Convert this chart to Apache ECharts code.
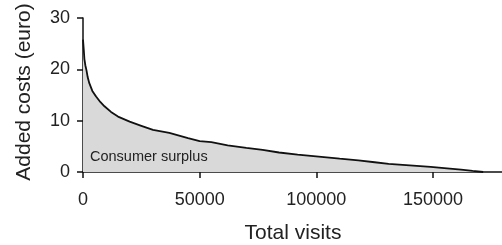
<!DOCTYPE html>
<html>
<head>
<meta charset="utf-8">
<script src="https://cdn.jsdelivr.net/npm/echarts@6/dist/echarts.min.js"></script>
<style>
  html, body { margin: 0; padding: 0; background: #fff; }
  #chart { width: 502px; height: 245px; }
</style>
</head>
<body>
<div id="chart"></div>
<script>
// 横坐标：总访问量
const visits = [0, 300, 600, 1000, 1500, 2000, 2700, 4000, 5600, 7500, 9200, 12000, 15000, 20000,
  25000, 30000, 37000, 45000, 50000, 55000, 62000, 70000, 77000, 84000, 92000, 101000, 110000,
  118000, 125000, 131000, 140000, 149000, 156000, 162000, 167000, 171500];
// 纵坐标：附加成本 (euro)
const costs = [25.8, 24, 22, 20.8, 19.8, 18.5, 17.3, 15.8, 14.7, 13.6, 12.8, 11.7, 10.8, 9.8,
  9.0, 8.2, 7.6, 6.6, 6.0, 5.8, 5.2, 4.7, 4.3, 3.8, 3.4, 3.0, 2.6,
  2.25, 1.9, 1.6, 1.3, 1.0, 0.7, 0.45, 0.2, 0];
const xTicks = [0, 50000, 100000, 150000];
const yTicks = [0, 10, 20, 30];

const font = '"Liberation Sans", Arial, sans-serif';
const chart = echarts.init(document.getElementById('chart'));

const option = {
  animation: false,
  grid: { left: 83, top: 18, right: -1, bottom: 73, containLabel: false, outerBoundsMode: 'none' },
  xAxis: {
    type: 'value',
    min: 0,
    max: 180000,
    interval: 50000,
    name: 'Total visits',
    nameLocation: 'middle',
    nameGap: 51,
    nameTextStyle: { fontFamily: font, fontSize: 21, color: '#222' },
    splitLine: { show: false },
    axisLine: { onZero: false, lineStyle: { color: '#111', width: 1.5 } },
    axisTick: { length: 6, customValues: xTicks, lineStyle: { color: '#111', width: 1.5 } },
    axisLabel: {
      customValues: xTicks, margin: 19, fontFamily: font, fontSize: 18, color: '#222',
      formatter: v => String(v),
    },
  },
  yAxis: {
    type: 'value',
    min: 0,
    max: 30,
    interval: 10,
    name: 'Added costs (euro)',
    nameLocation: 'middle',
    nameGap: 48,
    nameTextStyle: { fontFamily: font, fontSize: 21, color: '#222', padding: [0, 0, 0, 6] },
    splitLine: { show: false },
    axisLine: { show: true, lineStyle: { color: '#111', width: 1.5 } },
    axisTick: { show: true, length: 6, customValues: yTicks, lineStyle: { color: '#111', width: 1.5 } },
    axisLabel: {
      customValues: yTicks, margin: 13, fontFamily: font, fontSize: 18, color: '#222',
      formatter: v => String(v),
    },
  },
  graphic: [{
    type: 'text',
    left: 90,
    top: 149,
    z: 100,
    style: { text: 'Consumer surplus', font: '14.5px ' + font, fill: '#222' },
  }],
  series: [{
    type: 'line',
    data: visits.map((v, i) => [v, costs[i]]),
    showSymbol: false,
    smooth: false,
    lineStyle: { color: '#111', width: 1.8 },
    areaStyle: { color: '#d9d9d9', opacity: 1 },
  }],
};

chart.setOption(option);
</script>
</body>
</html>
